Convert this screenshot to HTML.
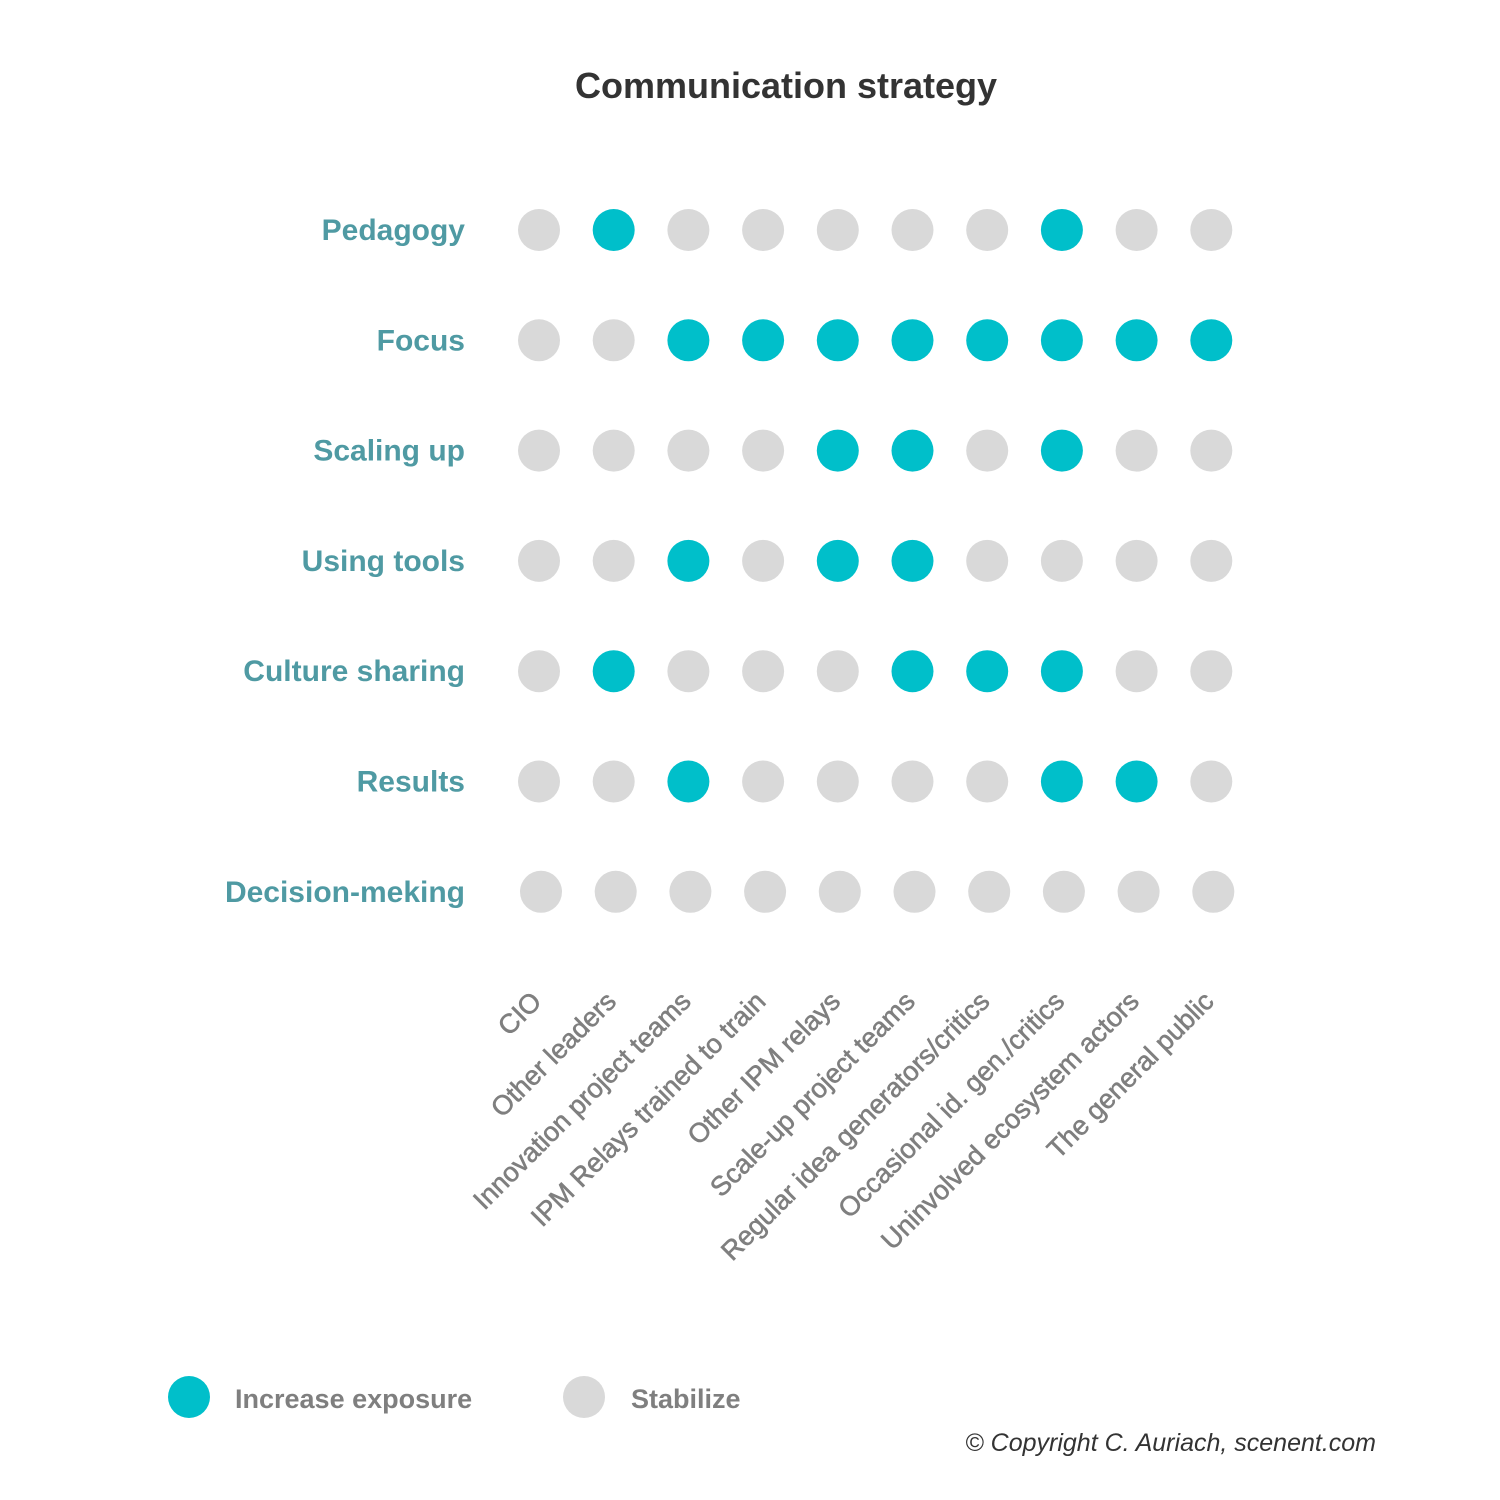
<!DOCTYPE html>
<html><head><meta charset="utf-8"><style>
html,body{margin:0;padding:0;background:#fff;}
svg{display:block;font-family:"Liberation Sans",sans-serif;}
</style></head><body>
<svg id="chart" width="1500" height="1500" viewBox="0 0 1500 1500" xmlns="http://www.w3.org/2000/svg">
<rect width="1500" height="1500" fill="#fff"/>
<text x="786" y="98" text-anchor="middle" font-size="36" font-weight="bold" fill="#333">Communication strategy</text>
<g id="rows"></g><g id="dots"></g><g id="cols"></g>
<g>
<circle cx="189" cy="1397" r="21" fill="#00BFCA"/>
<text x="235" y="1408" font-size="27" font-weight="bold" fill="#7f7f7f">Increase exposure</text>
<circle cx="584" cy="1397" r="21" fill="#D9D9D9"/>
<text x="631" y="1408" font-size="27" font-weight="bold" fill="#7f7f7f">Stabilize</text>
</g>
<text x="1376" y="1451" text-anchor="end" font-size="25" font-style="italic" fill="#333">© Copyright C. Auriach, scenent.com</text>
</svg>
<script>
const rowLabels = ["Pedagogy","Focus","Scaling up","Using tools","Culture sharing","Results","Decision-meking"];
const colLabels = ["CIO","Other leaders","Innovation project teams","IPM Relays trained to train","Other IPM relays","Scale-up project teams","Regular idea generators/critics","Occasional id. gen./critics","Uninvolved ecosystem actors","The general public"];
const rowPedagogy = [0,1,0,0,0,0,0,1,0,0];
const rowFocus = [0,0,1,1,1,1,1,1,1,1];
const rowScaling = [0,0,0,0,1,1,0,1,0,0];
const rowTools = [0,0,1,0,1,1,0,0,0,0];
const rowCulture = [0,1,0,0,0,1,1,1,0,0];
const rowResults = [0,0,1,0,0,0,0,1,1,0];
const rowDecision = [0,0,0,0,0,0,0,0,0,0];
const matrix = [rowPedagogy,rowFocus,rowScaling,rowTools,rowCulture,rowResults,rowDecision];

const NS="http://www.w3.org/2000/svg";
const xPos = i => 539 + i*74.7;
const yPos = j => 230 + j*110.3;
const rowsG=document.getElementById('rows'), dotsG=document.getElementById('dots'), colsG=document.getElementById('cols');
rowLabels.forEach((lab,j)=>{
  const t=document.createElementNS(NS,'text');
  
  
  t.setAttribute('x',465);t.setAttribute('y',yPos(j)+10);
  t.setAttribute('text-anchor','end');t.setAttribute('font-size','30');
  t.setAttribute('font-weight','bold');t.setAttribute('fill','#4F9AA3');
  t.textContent=lab;rowsG.appendChild(t);
  matrix[j].forEach((v,i)=>{
    const c=document.createElementNS(NS,'circle');
    
    
    c.setAttribute('cx',xPos(i)+(j===6?2:0));c.setAttribute('cy',yPos(j));c.setAttribute('r',21);
    c.setAttribute('fill',v?'#00BFCA':'#D9D9D9');
    dotsG.appendChild(c);
  });
});
colLabels.forEach((lab,i)=>{
  const t=document.createElementNS(NS,'text');
  
  
  const x=xPos(i)+4, y=1003;
  t.setAttribute('x',x);t.setAttribute('y',y);
  t.setAttribute('text-anchor','end');t.setAttribute('font-size','27');
  t.setAttribute('fill','#7f7f7f');t.setAttribute('stroke','#7f7f7f');t.setAttribute('stroke-width','0.6');
  t.setAttribute('transform','rotate(-45 '+x+' '+y+')');
  t.textContent=lab;colsG.appendChild(t);
});
</script>
</body></html>
